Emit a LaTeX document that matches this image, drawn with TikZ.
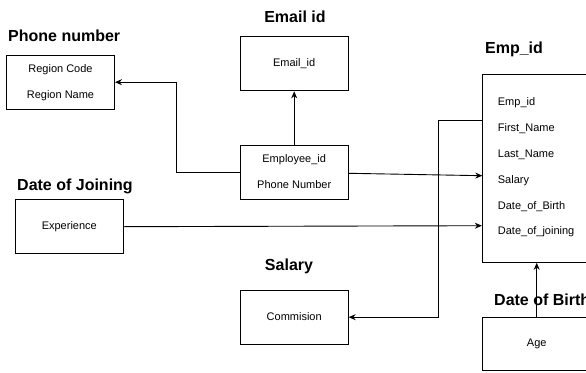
\documentclass[tikz,border=0pt]{standalone}
\usepackage{fontspec}
\setmainfont{Liberation Sans}
\usetikzlibrary{arrows.meta}
\begin{document}
\begin{tikzpicture}[x=1pt,y=-1pt,
  box/.style={draw, line width=0.9pt, inner sep=0, minimum width=108pt, minimum height=54pt},
  lbl/.style={font=\fontsize{11}{13}\selectfont, inner sep=0, anchor=base},
  lbll/.style={lbl, anchor=base west},
  ttl/.style={font=\bfseries\fontsize{16}{19}\selectfont, inner sep=0, anchor=base},
  ttll/.style={ttl, anchor=base west},
  conn/.style={line width=0.9pt, -{Stealth[length=7pt,width=6pt]}}]
\useasboundingbox (0,0) rectangle (586,372);
\clip (0,0) rectangle (586,372);
% boxes
\node[box] (phone) at (60.5,82.2) {};
\node[box] (email) at (294.2,63.9) {};
\node[box] (empl) at (294.2,172.5) {};
\node[box] (exp) at (69.3,226.7) {};
\node[box] (comm) at (294.2,317.2) {};
\node[box, minimum height=188.3pt] (emp) at (536.3,168.2) {};
\node[box, minimum height=53pt] (age) at (536.3,344.2) {};
% titles
\node[ttll] (tphone) at (8,41) {Phone number};
\node[ttl] (temail) at (295,23) {Email id};
\node[ttll] (tdoj) at (17,190.5) {Date of Joining};
\node[ttl] (tsal) at (289,270) {Salary};
\node[ttl] (temp) at (514,53.3) {Emp\_id};
\node[ttll] (tdob) at (494,305.7) {Date of Birth};
% texts
\node[lbl] (rc) at (60.5,72.3) {Region Code};
\node[lbl] (rn) at (60.5,98.3) {Region Name};
\node[lbl] (eid) at (294.2,66.7) {Email\_id};
\node[lbl] (emid) at (294.2,162.3) {Employee\_id};
\node[lbl] (pn) at (294.2,188.3) {Phone Number};
\node[lbl] (ex) at (69.3,229) {Experience};
\node[lbl] (cm) at (294.2,320.3) {Commision};
\node[lbl] (ag) at (536.7,346.7) {Age};
\node[lbll] (f1) at (497.7,105) {Emp\_id};
\node[lbll] (f2) at (497.7,131.7) {First\_Name};
\node[lbll] (f3) at (497.7,157.7) {Last\_Name};
\node[lbll] (f4) at (497.7,183.3) {Salary};
\node[lbll] (f5) at (497.7,209) {Date\_of\_Birth};
\node[lbll] (f6) at (497.7,234.3) {Date\_of\_joining};
% connector helpers
\coordinate (vx1) at (176.7,0);
\coordinate (salin) at (482.3,175.7);
\coordinate (c1) at (438.3,120);
\coordinate (ax) at (536.7,0);
% connectors
\draw[conn] (empl.west) -- (empl.west -| vx1) -- (phone.east -| vx1) -- (phone.east);
\draw[conn] (empl.north) -- (email.south);
\draw[conn] ([yshift=-0.8pt]empl.east) -- (salin);
\draw[conn] (exp.east) -- ([yshift=1pt]emp.west |- exp.east);
\draw[conn] (c1 -| emp.west) -- (c1) |- (comm.east);
\draw[conn] (age.north -| ax) -- (emp.south -| ax);
\end{tikzpicture}
\end{document}
